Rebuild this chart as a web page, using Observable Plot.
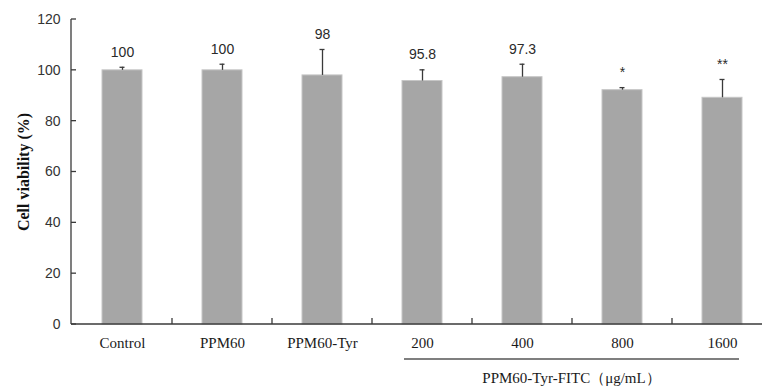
<!DOCTYPE html>
<html>
<head>
<meta charset="utf-8">
<script src="https://cdn.jsdelivr.net/npm/d3@7"></script>
<script src="https://cdn.jsdelivr.net/npm/@observablehq/plot@0.6"></script>
<style>
  html, body { margin: 0; padding: 0; background: #fff; }
  #chart svg { display: block; }
  g[aria-label="y-axis label"] text { font-family: "Liberation Serif", "Times New Roman", serif; font-weight: bold; font-size: 16px; fill: #111; }
</style>
</head>
<body>
<div id="chart"></div>
<script>
const categories = ["Control", "PPM60", "PPM60-Tyr", "200", "400", "800", "1600"];
const viability = [100, 100, 98, 95.8, 97.3, 92.2, 89.2];
const errors = [1.2, 2.4, 10.2, 4.4, 5.1, 1.0, 7.2];
const valueLabels = ["100", "100", "98", "95.8", "97.3", "*", "**"];
const yTicks = [0, 20, 40, 60, 80, 100, 120];
const yLabel = "Cell viability (%)";
const groupLabel = "PPM60-Tyr-FITC（μg/mL）";
const groupFirst = "200";
const groupLast = "1600";

const data = categories.map((c, i) => ({cat: c, v: viability[i], e: errors[i], lab: valueLabels[i]}));

const chart = Plot.plot({
  width: 762,
  height: 388,
  marginLeft: 71,
  marginRight: 0,
  marginTop: 19,
  marginBottom: 64,
  style: {fontFamily: "'Liberation Sans', Arial, sans-serif", fontSize: "14px", background: "#fff", overflow: "visible"},
  x: {domain: categories, range: [71, 772], paddingInner: 0.6, paddingOuter: 0.3, label: null},
  y: {domain: [0, 120], ticks: yTicks, label: yLabel},
  marks: [
    Plot.barY(data, {x: "cat", y: "v", fill: "#a6a6a6", stroke: "#c6c6c6", strokeWidth: 1}),
    Plot.ruleX(data, {x: "cat", y1: "v", y2: d => d.v + d.e, stroke: "#3a3a3a", strokeWidth: 1.3}),
    Plot.tickY(data, {x: "cat", y: d => d.v + d.e, stroke: "#3a3a3a", strokeWidth: 1.3, insetLeft: 17.5, insetRight: 17.5}),
    Plot.text(data, {x: "cat", y: d => d.v + d.e, text: "lab", dy: -15, fill: "#2a2a2a", fontSize: 14}),
    Plot.axisY({ticks: yTicks, tickSize: 0, tickPadding: 11, fill: "#333", fontSize: 14,
      label: yLabel, labelAnchor: "center", labelOffset: 54, labelArrow: "none"}),
    Plot.axisX({tickSize: 0, tickPadding: 13, fontFamily: "'Liberation Serif', 'Times New Roman', serif", fontSize: 15, fill: "#1a1a1a", label: null})
  ]
});
document.getElementById("chart").appendChild(chart);

// axis lines, inward ticks, category-boundary ticks and group bracket, from the Plot scales
const sx = chart.scale("x"), sy = chart.scale("y");
const step = sx.step != null ? sx.step : (sx.range[1] - sx.range[0]) / categories.length;
const bw = sx.bandwidth != null ? sx.bandwidth : step * 0.4;
const X = v => sx.apply(v), Y = v => sy.apply(v);
const svg = d3.select(chart);
const g = svg.append("g").attr("stroke", "#3a3a3a").attr("stroke-width", 1.3).attr("fill", "none");
const x0 = 71, y0 = Y(0);
g.append("line").attr("x1", x0).attr("x2", x0).attr("y1", Y(120)).attr("y2", y0);
g.append("line").attr("x1", x0).attr("x2", 762).attr("y1", y0).attr("y2", y0);
yTicks.forEach(t => g.append("line").attr("x1", x0).attr("x2", x0 + 5).attr("y1", Y(t)).attr("y2", Y(t)));
categories.slice(1).forEach(c => {
  const bx = X(c) - (step - bw) / 2;
  g.append("line").attr("x1", bx).attr("x2", bx).attr("y1", y0).attr("y2", y0 - 6);
});
const bx1 = X(groupFirst) + 2, bx2 = X(groupLast) + bw - 3;
g.append("line").attr("x1", bx1).attr("x2", bx2).attr("y1", y0 + 35).attr("y2", y0 + 35).attr("stroke", "#555").attr("stroke-width", 1.5);
svg.append("text").attr("x", (bx1 + bx2) / 2).attr("y", y0 + 59).attr("text-anchor", "middle")
  .attr("font-family", "'Liberation Serif', 'Times New Roman', serif").attr("font-size", 15).attr("fill", "#1a1a1a")
  .text(groupLabel);
</script>
</body>
</html>
